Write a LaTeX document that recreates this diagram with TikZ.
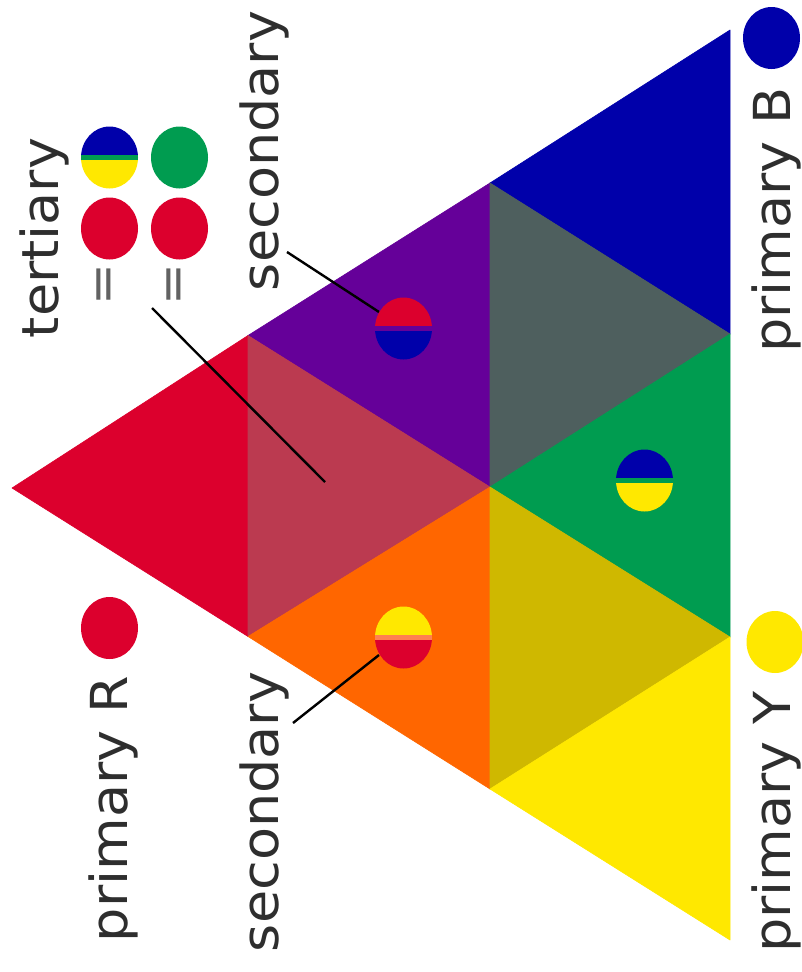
\documentclass[tikz,border=0pt]{standalone}
\usepackage{fontspec}
\setmainfont{DejaVu Sans}
\newfontfamily\lblfont[FakeStretch=1.06]{DejaVu Sans}
\usetikzlibrary{shapes.geometric}
\definecolor{cRed}{HTML}{DC002D}
\definecolor{cMuted}{HTML}{BB3A50}
\definecolor{cPurple}{HTML}{650099}
\definecolor{cOrange}{HTML}{FF6600}
\definecolor{cBlue}{HTML}{0000AA}
\definecolor{cGray}{HTML}{4E5F5E}
\definecolor{cGreen}{HTML}{009C50}
\definecolor{cOlive}{HTML}{CFB800}
\definecolor{cYellow}{HTML}{FFE800}
\definecolor{cStripe}{HTML}{FF8050}
\definecolor{txt}{HTML}{2E2E2E}
\tikzset{
  tri/.style={fill=#1, draw=#1, line width=0.6pt, line join=round},
  disc/.style={ellipse, minimum width=57pt, minimum height=62pt, inner sep=0pt, fill=#1},
  lbl/.style={rotate=90, anchor=base, inner sep=0pt, text=txt, font=\lblfont\fontsize{51}{56}\selectfont},
  eqsign/.style={rotate=90, inner sep=0pt, text=txt!75, font=\fontsize{50}{54}\selectfont},
  leader/.style={draw=black, line width=2.4pt},
  pics/halfdisc/.style n args={3}{code={
    \begin{scope}
      \clip (0,0) ellipse [x radius=28.5pt, y radius=31pt];
      \fill[#1] (-30,-32) rectangle (30,-2.5);
      \fill[#2] (-30,-2.5) rectangle (30,2.5);
      \fill[#3] (-30,2.5) rectangle (30,32);
    \end{scope}
  }}
}
\begin{document}
\begin{tikzpicture}[x=1pt,y=-1pt]
\useasboundingbox (0,0) rectangle (802,972);
% triangle vertices
\coordinate (A) at (12,488);
\coordinate (L1) at (248,335.5);
\coordinate (R1) at (248,636.5);
\coordinate (L2) at (490,183);
\coordinate (M2) at (490,487);
\coordinate (R2) at (490,789);
\coordinate (L3) at (730,30);
\coordinate (Ma) at (730,334);
\coordinate (Mb) at (730,637);
\coordinate (R3) at (730,940);
% small triangles
\filldraw[tri=cRed] (A) -- (L1) -- (R1) -- cycle;
\filldraw[tri=cPurple] (L1) -- (L2) -- (M2) -- cycle;
\filldraw[tri=cMuted] (L1) -- (R1) -- (M2) -- cycle;
\filldraw[tri=cOrange] (R1) -- (M2) -- (R2) -- cycle;
\filldraw[tri=cBlue] (L2) -- (L3) -- (Ma) -- cycle;
\filldraw[tri=cGray] (L2) -- (M2) -- (Ma) -- cycle;
\filldraw[tri=cGreen] (M2) -- (Ma) -- (Mb) -- cycle;
\filldraw[tri=cOlive] (M2) -- (R2) -- (Mb) -- cycle;
\filldraw[tri=cYellow] (R2) -- (Mb) -- (R3) -- cycle;
% leader lines
\coordinate (s1a) at (287,252);
\coordinate (s1b) at (379,312);
\coordinate (ta) at (152,308);
\coordinate (tb) at (325,482);
\coordinate (s2a) at (293,723);
\coordinate (s2b) at (379,655);
\draw[leader] (s1a) -- (s1b);
\draw[leader] (ta) -- (tb);
\draw[leader] (s2a) -- (s2b);
% half discs
\pic (hdRB) at (403.5,328.5) {halfdisc={cRed}{cPurple}{cBlue}};
\pic (hdYR) at (403.5,637.5) {halfdisc={cYellow}{cStripe}{cRed}};
\pic (hdBY) at (644.5,480.5) {halfdisc={cBlue}{cGreen}{cYellow}};
\pic (hdT) at (109.5,157.5) {halfdisc={cBlue}{cGreen}{cYellow}};
% full discs
\node[disc=cGreen] (dG) at (179.5,157.5) {};
\node[disc=cRed] (dR1) at (109.5,228.5) {};
\node[disc=cRed] (dR2) at (179.5,228.5) {};
\node[disc=cBlue] (pB) at (771.5,38) {};
\node[disc=cYellow] (pY) at (775,642) {};
\node[disc=cRed] (pR) at (109.5,628) {};
% equals signs
\node[eqsign] (eq1) at (108,285) {=};
\node[eqsign] (eq2) at (178,285) {=};
% labels
\node[lbl] (tB) at (790,220) {primary B};
\node[lbl] (tY) at (790,822) {primary Y};
\node[lbl] (tR) at (127,809) {primary R};
\node[lbl] (sec1) at (278,151) {secondary};
\node[lbl] (sec2) at (278,812) {secondary};
\node[lbl] (ter) at (58,238) {tertiary};
\end{tikzpicture}
\end{document}
